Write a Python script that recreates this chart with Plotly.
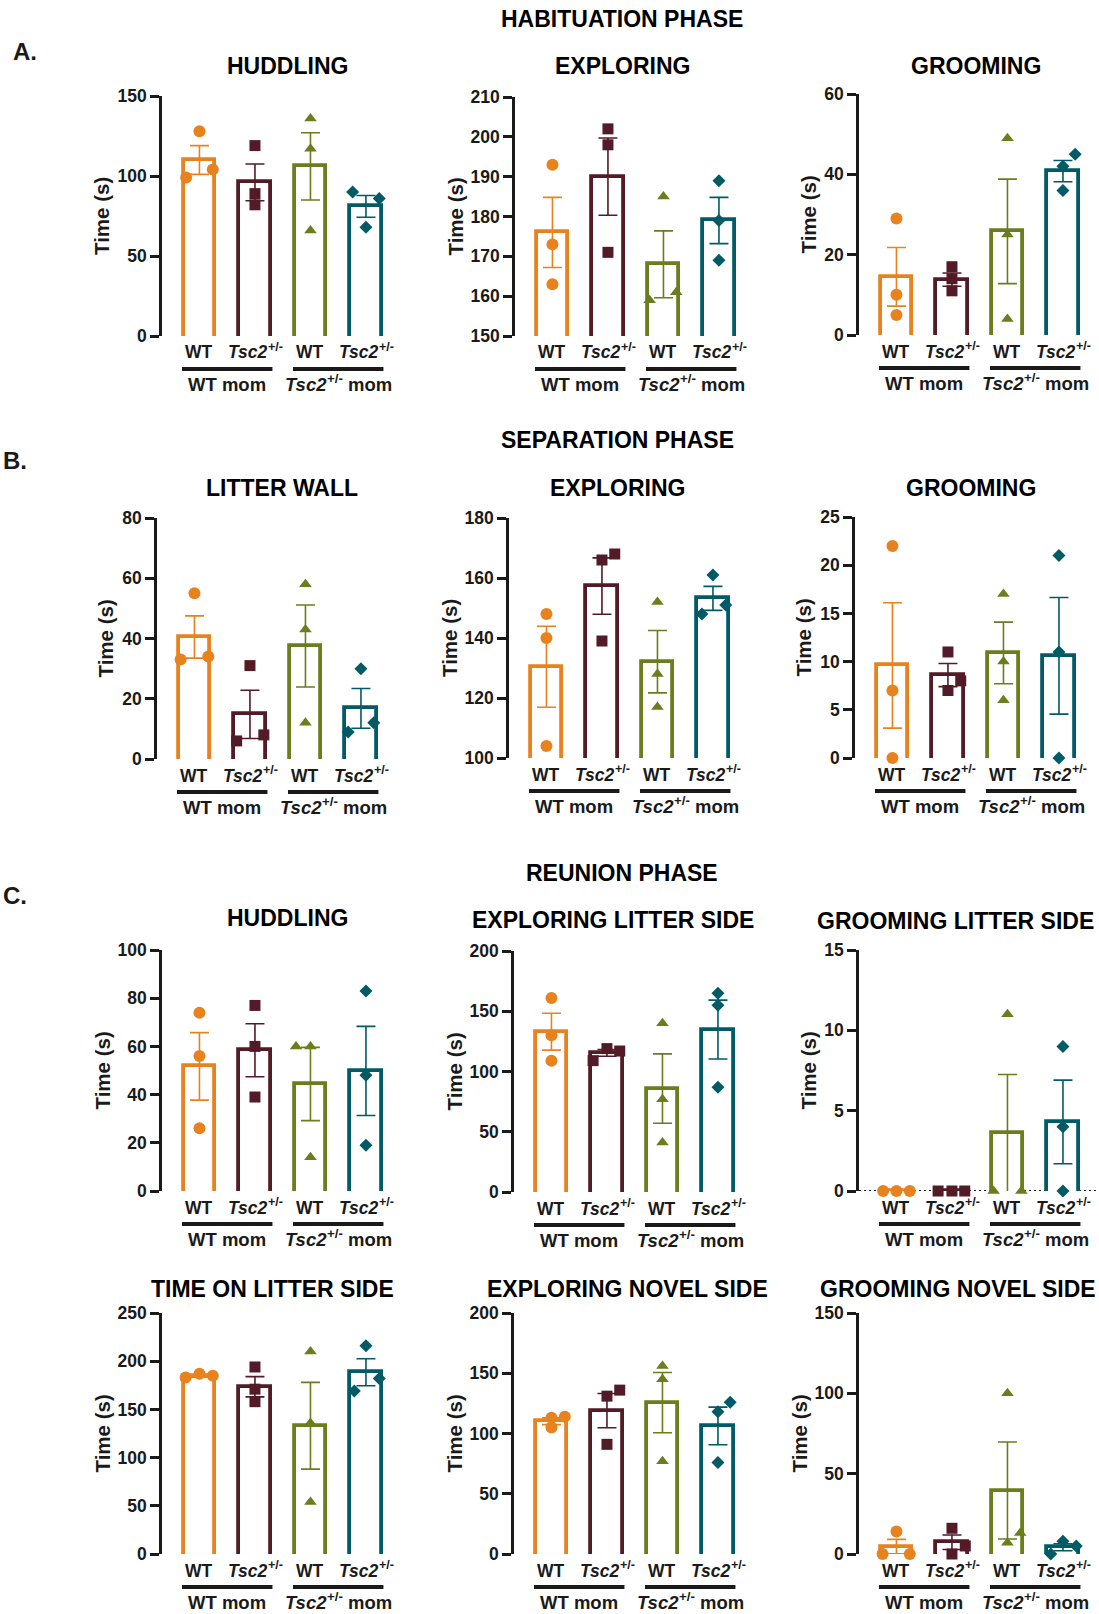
import plotly.graph_objects as go

W, H = 1099, 1614
FONT = "Liberation Sans, Arial, sans-serif"
INK = "#1a1a1a"

# ---------------- data ----------------
groups = ["WT", "Tsc2+/-", "WT", "Tsc2+/-"]
moms = ["WT mom", "Tsc2+/- mom"]
group_colors = ["#E8821E", "#521B27", "#6B7D1C", "#005B66"]
symbols = ["circle", "square", "triangle-up", "diamond"]
msizes = [12, 11, 11, 10]

# Habituation phase
hab_huddling_mean = [110, 96, 106, 81]
hab_huddling_sem = [9, 11.5, 21, 6.8]
hab_huddling_pts = [[128, 99, 104], [119, 89, 82], [136, 117, 66], [90, 86, 68]]
hab_huddling_jit = [[0, -0.24, 0.24], [0, 0, 0], [0, 0, 0], [-0.24, 0.24, 0]]

hab_exploring_mean = [176, 190, 168, 179]
hab_exploring_sem = [8.8, 9.7, 8.4, 5.8]
hab_exploring_pts = [[193, 173, 163], [202, 198, 171], [185, 159, 161], [189, 179, 169]]
hab_exploring_jit = [[0, 0, 0], [0, 0, 0], [0, -0.25, 0.23], [0, 0, 0]]

hab_grooming_mean = [14.5, 13.8, 25.8, 40.8]
hab_grooming_sem = [7.3, 1.65, 13, 2.65]
hab_grooming_pts = [[29, 10, 5], [17, 14, 11], [49, 25, 4], [45, 42, 36]]
hab_grooming_jit = [[0, 0, 0], [0, 0, 0], [0, 0, 0], [0.22, 0, 0]]

# Separation phase
sep_wall_mean = [40.5, 14.8, 37.5, 16.8]
sep_wall_sem = [7, 8, 13.6, 6.6]
sep_wall_pts = [[55, 33, 34], [31, 6, 8], [58, 43, 12], [30, 9, 12]]
sep_wall_jit = [[0, -0.25, 0.25], [0, -0.24, 0.25], [0, 0, 0], [0, -0.23, 0.23]]

sep_exploring_mean = [130.4, 157.3, 132.1, 153.2]
sep_exploring_sem = [13.5, 9.4, 10.4, 4]
sep_exploring_pts = [[148, 140, 104], [166, 168, 139], [152, 128, 117], [161, 148, 151]]
sep_exploring_jit = [[0, 0, 0], [0, 0.23, 0], [0, 0, 0], [0, -0.2, 0.23]]

sep_grooming_mean = [9.6, 8.6, 10.9, 10.6]
sep_grooming_sem = [6.5, 1.2, 3.2, 6.05]
sep_grooming_pts = [[22, 7, 0], [11, 7, 8], [17, 10, 6], [21, 11, 0]]
sep_grooming_jit = [[0, 0, 0], [0, 0, 0.23], [0, 0, 0], [0, 0, 0]]

# Reunion phase
reu_huddling_mean = [51.7, 58.4, 44.4, 49.8]
reu_huddling_sem = [14, 11, 15.2, 18.5]
reu_huddling_pts = [[74, 56, 26], [77, 60, 39], [60, 60, 14], [83, 48, 19]]
reu_huddling_jit = [[0, 0, 0], [0, 0, 0], [-0.26, 0, 0], [0, 0, 0]]

reu_expl_litter_mean = [133, 115.5, 85.8, 134.8]
reu_expl_litter_sem = [15.3, 2.8, 28.8, 24.4]
reu_expl_litter_pts = [[161, 130, 109], [109, 119, 117], [140, 77, 41], [165, 155, 87]]
reu_expl_litter_jit = [[0, 0, 0], [-0.25, 0, 0.23], [0, 0, 0], [0, 0, 0]]

reu_groom_litter_mean = [0, 0, 3.6, 4.3]
reu_groom_litter_sem = [0, 0, 3.65, 2.6]
reu_groom_litter_pts = [[0, 0, 0], [0, 0, 0], [11, 0, 0], [9, 4, 0]]
reu_groom_litter_jit = [[-0.24, 0, 0.24], [-0.25, 0, 0.23], [0, -0.25, 0.25], [0, 0, 0]]

reu_time_litter_mean = [184.5, 173.5, 133, 188.5]
reu_time_litter_sem = [1.1, 10.5, 45, 14]
reu_time_litter_pts = [[183, 187, 185], [194, 171, 158], [210, 136, 54], [216, 169, 182]]
reu_time_litter_jit = [[-0.25, 0, 0.24], [0, 0, 0], [0, 0, 0], [0, -0.21, 0.24]]

reu_expl_novel_mean = [110.2, 119, 125.6, 106.3]
reu_expl_novel_sem = [2.8, 14.2, 25, 15.6]
reu_expl_novel_pts = [[113, 105, 114], [131, 136, 91], [156, 145, 77], [118, 126, 76]]
reu_expl_novel_jit = [[0, 0, 0.24], [0, 0.23, 0], [0, 0, 0], [0, 0.22, 0]]

reu_groom_novel_mean = [4.6, 7.3, 39.5, 4.2]
reu_groom_novel_sem = [4.5, 4.5, 30.2, 2.2]
reu_groom_novel_pts = [[14, 0, 0], [16, 0, 5], [100, 7, 13], [8, 0, 5]]
reu_groom_novel_jit = [[0, -0.25, 0.24], [0, 0, 0.24], [0, 0, 0.23], [0, -0.22, 0.24]]

panel_titles = ["HUDDLING", "EXPLORING", "GROOMING",
                "LITTER WALL", "EXPLORING", "GROOMING",
                "HUDDLING", "EXPLORING LITTER SIDE", "GROOMING LITTER SIDE",
                "TIME ON LITTER SIDE", "EXPLORING NOVEL SIDE", "GROOMING NOVEL SIDE"]
phase_titles = ["HABITUATION PHASE", "SEPARATION PHASE", "REUNION PHASE"]
section_letters = ["A.", "B.", "C."]

# ---------------- layout geometry (pixels) ----------------
panels = [
    dict(mean=hab_huddling_mean, sem=hab_huddling_sem, pts=hab_huddling_pts, jit=hab_huddling_jit,
         yr=[0, 150], dt=50, ax=162, top=96, bot=336, tx=287, ty=66, dx=60),
    dict(mean=hab_exploring_mean, sem=hab_exploring_sem, pts=hab_exploring_pts, jit=hab_exploring_jit,
         yr=[150, 210], dt=10, ax=515, top=97, bot=336, tx=622, ty=66, dx=60),
    dict(mean=hab_grooming_mean, sem=hab_grooming_sem, pts=hab_grooming_pts, jit=hab_grooming_jit,
         yr=[0, 60], dt=20, ax=859, top=94, bot=335, tx=976, ty=66, dx=51),
    dict(mean=sep_wall_mean, sem=sep_wall_sem, pts=sep_wall_pts, jit=sep_wall_jit,
         yr=[0, 80], dt=20, ax=157, top=518, bot=759, tx=282, ty=488, dx=52),
    dict(mean=sep_exploring_mean, sem=sep_exploring_sem, pts=sep_exploring_pts, jit=sep_exploring_jit,
         yr=[100, 180], dt=20, ax=509, top=518, bot=758, tx=617, ty=488, dx=60),
    dict(mean=sep_grooming_mean, sem=sep_grooming_sem, pts=sep_grooming_pts, jit=sep_grooming_jit,
         yr=[0, 25], dt=5, ax=855, top=517, bot=758, tx=971, ty=488, dx=52),
    dict(mean=reu_huddling_mean, sem=reu_huddling_sem, pts=reu_huddling_pts, jit=reu_huddling_jit,
         yr=[0, 100], dt=20, ax=162, top=950, bot=1191, tx=287, ty=918, dx=60),
    dict(mean=reu_expl_litter_mean, sem=reu_expl_litter_sem, pts=reu_expl_litter_pts, jit=reu_expl_litter_jit,
         yr=[0, 200], dt=50, ax=514, top=951, bot=1192, tx=613, ty=920, dx=60),
    dict(mean=reu_groom_litter_mean, sem=reu_groom_litter_sem, pts=reu_groom_litter_pts, jit=reu_groom_litter_jit,
         yr=[0, 15], dt=5, ax=859, top=950, bot=1191, tx=955, ty=921, dx=51, dotted=True),
    dict(mean=reu_time_litter_mean, sem=reu_time_litter_sem, pts=reu_time_litter_pts, jit=reu_time_litter_jit,
         yr=[0, 250], dt=50, ax=162, top=1313, bot=1554, tx=272, ty=1289, dx=60),
    dict(mean=reu_expl_novel_mean, sem=reu_expl_novel_sem, pts=reu_expl_novel_pts, jit=reu_expl_novel_jit,
         yr=[0, 200], dt=50, ax=514, top=1313, bot=1554, tx=627, ty=1289, dx=60),
    dict(mean=reu_groom_novel_mean, sem=reu_groom_novel_sem, pts=reu_groom_novel_pts, jit=reu_groom_novel_jit,
         yr=[0, 150], dt=50, ax=859, top=1313, bot=1554, tx=958, ty=1289, dx=60),
]
phase_pos = [(622, 19), (617, 440), (622, 873)]
letter_pos = [(25, 52), (15, 460), (15, 895)]

UNIT = 55.5
XR = [-0.675, 3.45]
BAR_W = 0.56
LBL_SIZE = 17.5
MOM_SIZE = 18.5
SUP_RATIO = 0.72
EM = {"Tsc2": 2.279, "+/-": 1.195, " ": 0.278, "mom": 2.389}


def py(p):
    return 1 - p / H


def px(p):
    return p / W


def font(size, color=INK, italic=False):
    return dict(family=FONT, size=size, color=color, weight="bold",
                style="italic" if italic else "normal")


def gene_label(cx, base_y, size, suffix=None):
    """'Tsc2' italic + superscript '+/-' (+ optional suffix), centred on cx (pixels)."""
    sup = size * SUP_RATIO
    w_gene = EM["Tsc2"] * size
    w_sup = EM["+/-"] * sup
    w_suffix = (EM[" "] + EM[suffix]) * size if suffix else 0
    total = w_gene + w_sup + w_suffix - 2
    x0 = cx - total / 2
    out = [dict(x=px(x0 + w_gene + 1.5), y=py(base_y), xanchor="right", yanchor="bottom",
                text="Tsc2", font=font(size, italic=True)),
           dict(x=px(x0 + w_gene - 2.5), y=py(base_y - 0.5 * size), xanchor="left", yanchor="bottom",
                text="+/-", font=font(sup))]
    if suffix:
        out.append(dict(x=px(x0 + w_gene + w_sup + EM[" "] * size - 3), y=py(base_y),
                        xanchor="left", yanchor="bottom", text=suffix, font=font(size)))
    for a in out:
        a.update(xref="paper", yref="paper", showarrow=False)
    return out


fig = go.Figure()
annotations = []
shapes = []
layout_axes = {}

for n, p in enumerate(panels, start=1):
    xa = "x" if n == 1 else f"x{n}"
    ya = "y" if n == 1 else f"y{n}"
    xkey = "xaxis" if n == 1 else f"xaxis{n}"
    ykey = "yaxis" if n == 1 else f"yaxis{n}"
    y0, y1 = p["yr"]
    eps = 3.0 * (y1 - y0) / (p["bot"] - p["top"])
    base = y0 - eps
    xs = list(range(4))

    def xpx(v, p=p):
        return p["ax"] + (v - XR[0]) * UNIT

    # bars (outline only)
    fig.add_trace(go.Bar(
        x=xs, y=[m - base for m in p["mean"]], base=base, width=BAR_W,
        marker=dict(color="white", line=dict(color=group_colors, width=3.8)),
        xaxis=xa, yaxis=ya, showlegend=False, hoverinfo="skip"))

    # individual points
    for g in range(4):
        fig.add_trace(go.Scatter(
            x=[g + j for j in p["jit"][g]], y=p["pts"][g], mode="markers",
            marker=dict(symbol=symbols[g], size=msizes[g], color=group_colors[g], line=dict(width=0)),
            cliponaxis=False, xaxis=xa, yaxis=ya, showlegend=False, hoverinfo="skip"))

    # error bars (SEM)
    for g in range(4):
        fig.add_trace(go.Scatter(
            x=[g], y=[p["mean"][g]], mode="markers",
            marker=dict(size=1, opacity=0, color=group_colors[g]),
            error_y=dict(type="data", array=[p["sem"][g]], visible=True,
                         color=group_colors[g], thickness=1.6, width=9.5),
            cliponaxis=False, xaxis=xa, yaxis=ya, showlegend=False, hoverinfo="skip"))

    dom_x = [px(p["ax"]), px(p["ax"] + UNIT * (XR[1] - XR[0]))]
    dom_y = [py(p["bot"]), py(p["top"])]
    layout_axes[xkey] = dict(domain=dom_x, range=XR, visible=False, anchor=ya, fixedrange=True,
                             automargin=False)
    layout_axes[ykey] = dict(
        domain=dom_y, range=[y0, y1], anchor=xa, tickmode="linear", tick0=y0, dtick=p["dt"],
        showline=True, linewidth=2.6, linecolor=INK, ticks="outside", ticklen=9, tickwidth=2.6,
        tickcolor=INK, showgrid=False, zeroline=False, automargin=False,
        tickfont=font(17.5), fixedrange=True)

    # x labels
    b = p["bot"]
    for g in range(4):
        if groups[g] == "WT":
            annotations.append(dict(
                x=px(xpx(g)), y=py(b + 28.5), xref="paper", yref="paper", xanchor="center",
                yanchor="bottom", text="WT", showarrow=False, font=font(LBL_SIZE)))
        else:
            annotations.extend(gene_label(xpx(g), b + 28.5, LBL_SIZE))
    for k, m in enumerate(moms):
        cx = xpx(0.5 + 2 * k)
        if m == "WT mom":
            annotations.append(dict(
                x=px(cx), y=py(b + 61), xref="paper", yref="paper", xanchor="center",
                yanchor="bottom", text="WT mom", showarrow=False, font=font(MOM_SIZE)))
        else:
            annotations.extend(gene_label(cx, b + 61, MOM_SIZE, suffix="mom"))
        shapes.append(dict(type="line", xref="paper", yref="paper",
                           x0=px(xpx(2 * k - 0.315)), x1=px(xpx(2 * k + 1.315)),
                           y0=py(b + 33), y1=py(b + 33),
                           line=dict(color=INK, width=4)))

    # panel title
    annotations.append(dict(
        x=px(p["tx"]), y=py(p["ty"]), xref="paper", yref="paper", xanchor="center", yanchor="middle",
        text=panel_titles[n - 1], showarrow=False, font=font(23, "black")))

    # y axis title
    annotations.append(dict(
        x=px(p["ax"] - p["dx"]), y=py((p["top"] + p["bot"]) / 2), xref="paper", yref="paper",
        xanchor="center", yanchor="middle", textangle=-90,
        text="Time (s)", showarrow=False, font=font(20.5)))

    if p.get("dotted"):
        shapes.append(dict(type="line", xref="paper", yref=ya,
                           x0=px(p["ax"]), x1=1.0, y0=0, y1=0, layer="below",
                           line=dict(color=INK, width=2, dash="2px,3px")))

for t, (cx, cy) in zip(phase_titles, phase_pos):
    annotations.append(dict(
        x=px(cx), y=py(cy), xref="paper", yref="paper", xanchor="center", yanchor="middle",
        text=t, showarrow=False, font=font(23, "black")))

for t, (cx, cy) in zip(section_letters, letter_pos):
    annotations.append(dict(
        x=px(cx), y=py(cy), xref="paper", yref="paper", xanchor="center", yanchor="middle",
        text=t, showarrow=False, font=font(24)))

fig.update_layout(
    template="none",
    width=W, height=H, margin=dict(l=0, r=0, t=0, b=0, pad=0, autoexpand=False),
    paper_bgcolor="white", plot_bgcolor="white",
    font=dict(family=FONT, color=INK),
    annotations=annotations, shapes=shapes, showlegend=False, bargap=0,
    **layout_axes)

fig.write_html("out.html")
